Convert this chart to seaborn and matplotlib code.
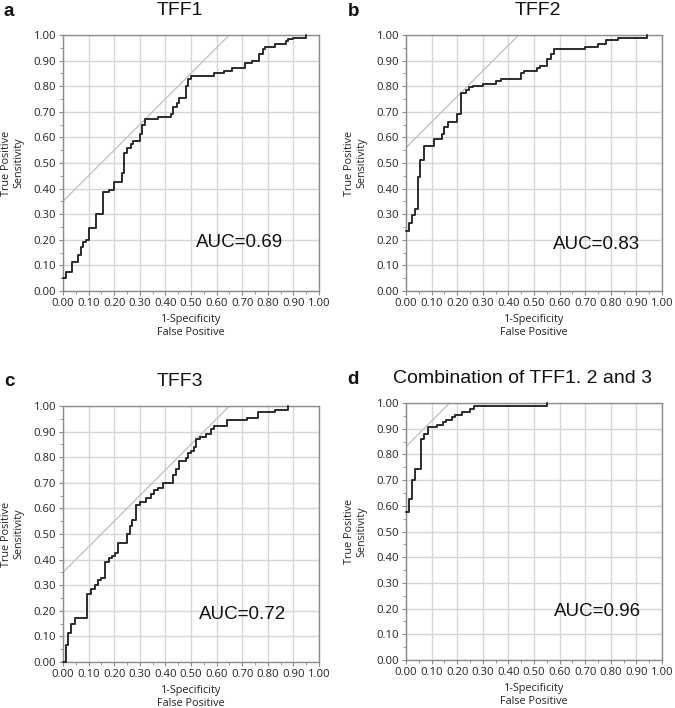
import matplotlib
matplotlib.use("Agg")
import matplotlib.pyplot as plt
import matplotlib.ticker as mticker
import seaborn as sns
import pandas as pd

# ── Data (x = 1-specificity at each step, y = sensitivity after the step) ──
tff1_fpr = [0, 0.01, 0.035, 0.06, 0.07, 0.08, 0.09, 0.10, 0.13, 0.155, 0.18, 0.20, 0.23, 0.24,
            0.25, 0.265, 0.275, 0.30, 0.31, 0.32, 0.37, 0.42, 0.43, 0.445, 0.455, 0.48, 0.49,
            0.50, 0.59, 0.63, 0.66, 0.71, 0.74, 0.765, 0.78, 0.79, 0.83, 0.87, 0.88, 0.90, 0.95]
tff1_tpr = [0.05, 0.075, 0.115, 0.14, 0.17, 0.19, 0.20, 0.245, 0.30, 0.385, 0.395, 0.425, 0.46,
            0.54, 0.56, 0.575, 0.585, 0.615, 0.65, 0.67, 0.68, 0.69, 0.72, 0.735, 0.755, 0.80,
            0.83, 0.84, 0.85, 0.86, 0.87, 0.89, 0.90, 0.925, 0.945, 0.955, 0.965, 0.975, 0.985,
            0.99, 1.0]

tff2_fpr = [0, 0.01, 0.025, 0.035, 0.045, 0.055, 0.07, 0.11, 0.14, 0.15, 0.165, 0.20, 0.215,
            0.235, 0.245, 0.26, 0.30, 0.35, 0.37, 0.45, 0.46, 0.51, 0.525, 0.55, 0.565, 0.58,
            0.70, 0.75, 0.78, 0.83, 0.94]
tff2_tpr = [0.235, 0.265, 0.295, 0.32, 0.445, 0.51, 0.565, 0.595, 0.615, 0.64, 0.66, 0.69,
            0.775, 0.785, 0.795, 0.80, 0.81, 0.82, 0.83, 0.85, 0.86, 0.87, 0.88, 0.905, 0.925,
            0.945, 0.955, 0.965, 0.98, 0.99, 1.0]

tff3_fpr = [0, 0.012, 0.02, 0.03, 0.045, 0.095, 0.11, 0.125, 0.135, 0.15, 0.165, 0.18, 0.19,
            0.205, 0.215, 0.25, 0.26, 0.27, 0.285, 0.30, 0.325, 0.345, 0.355, 0.37, 0.39, 0.43,
            0.44, 0.455, 0.48, 0.49, 0.50, 0.51, 0.52, 0.535, 0.56, 0.58, 0.59, 0.64, 0.72,
            0.76, 0.83, 0.88]
tff3_tpr = [0, 0.065, 0.115, 0.15, 0.17, 0.265, 0.285, 0.30, 0.32, 0.33, 0.39, 0.405, 0.415,
            0.425, 0.465, 0.50, 0.53, 0.555, 0.615, 0.625, 0.64, 0.655, 0.67, 0.68, 0.70, 0.73,
            0.755, 0.785, 0.795, 0.815, 0.825, 0.84, 0.87, 0.88, 0.89, 0.91, 0.92, 0.945, 0.955,
            0.975, 0.985, 1.0]

combo_fpr = [0, 0.01, 0.025, 0.035, 0.06, 0.07, 0.085, 0.12, 0.145, 0.155, 0.18, 0.19, 0.22,
             0.25, 0.265, 0.55]
combo_tpr = [0.575, 0.625, 0.70, 0.745, 0.86, 0.88, 0.905, 0.915, 0.925, 0.935, 0.945, 0.955,
             0.965, 0.975, 0.99, 1.0]

panel_letters = ["a", "b", "c", "d"]
panel_titles = ["TFF1", "TFF2", "TFF3", "Combination of TFF1. 2 and 3"]
auc_values = [0.69, 0.83, 0.72, 0.96]
tangent_intercepts = [0.35, 0.56, 0.35, 0.83]   # slope-1 reference line
tick_values = [i / 10 for i in range(11)]

curves = [(tff1_fpr, tff1_tpr), (tff2_fpr, tff2_tpr), (tff3_fpr, tff3_tpr), (combo_fpr, combo_tpr)]

# ── Style ──────────────────────────────────────────────────────────
sns.set_style("white")
plt.rcParams.update({
    "font.family": ["Open Sans", "DejaVu Sans"],
    "axes.edgecolor": "#8c8c8c",
    "axes.linewidth": 1.0,
})
ARIAL = ["Liberation Sans", "DejaVu Sans"]

fig = plt.figure(figsize=(6.75, 7.08), dpi=100)

# axes rectangles in figure pixels: left, top, width, height
rects = [(63, 35, 256, 256), (406, 35, 256, 256), (63, 406, 256, 256), (406, 403, 256, 257)]
title_x = [0.455, 0.515, 0.457, 0.455]
auc_pos = [(0.52, 0.19), (0.575, 0.18), (0.53, 0.187), (0.578, 0.188)]
letter_pos = [(4, 11), (348, 11), (4, 381), (347, 379)]

W, H = 675, 708
for i, (fpr, tpr) in enumerate(curves):
    left, top, w, h = rects[i]
    ax = fig.add_axes([left / W, (H - top - h) / H, w / W, h / H])

    # gray tangent line
    b = tangent_intercepts[i]
    diag = pd.DataFrame({"x": [0, 1 - b], "y": [b, 1.0]})
    sns.lineplot(data=diag, x="x", y="y", ax=ax, color="#c4c4c4", linewidth=1.0,
                 estimator=None, sort=False)

    df = pd.DataFrame({"fpr": fpr, "tpr": tpr})
    sns.lineplot(data=df, x="fpr", y="tpr", ax=ax, color="#2b2b2b", linewidth=1.4,
                 drawstyle="steps-post", estimator=None, sort=False, clip_on=False, zorder=5)

    ax.set_xlim(0, 1)
    ax.set_ylim(0, 1)
    ax.set_xticks(tick_values)
    ax.set_yticks(tick_values)
    ax.xaxis.set_minor_locator(mticker.MultipleLocator(0.05))
    ax.yaxis.set_minor_locator(mticker.MultipleLocator(0.05))
    ax.xaxis.set_major_formatter(mticker.FormatStrFormatter("%.2f"))
    ax.yaxis.set_major_formatter(mticker.FormatStrFormatter("%.2f"))
    ax.tick_params(which="major", direction="out", length=3, width=0.8, color="#8c8c8c",
                   labelsize=8.1, labelcolor="#222222", pad=2, bottom=True, left=True)
    ax.tick_params(which="minor", direction="out", length=2, width=0.6, color="#8c8c8c",
                   bottom=True, left=True)
    ax.grid(True, which="major", color="#d6d6d6", linewidth=1.0)
    ax.set_axisbelow(True)

    ax.set_ylabel("True Positive\nSensitivity", fontsize=7.8, color="#222222", linespacing=1.2)
    ax.yaxis.set_label_coords(-0.195, 0.5)
    ax.yaxis.label.set_va("center")
    ax.set_xlabel("1-Specificity\nFalse Positive", fontsize=7.8, color="#222222",
                  linespacing=1.25)
    ax.xaxis.set_label_coords(0.5, -0.135)
    ax.xaxis.label.set_va("center")

    ax.text(title_x[i], 1.095, panel_titles[i], transform=ax.transAxes, ha="center",
            va="center", fontsize=14, family=ARIAL, color="#111111")
    ax.text(auc_pos[i][0], auc_pos[i][1], f"AUC={auc_values[i]:.2f}", transform=ax.transAxes,
            ha="left", va="center", fontsize=13.5, family=ARIAL, color="#111111")

    lx, ly = letter_pos[i]
    fig.text(lx / W, 1 - ly / H, panel_letters[i], ha="left", va="center", fontsize=13.5,
             fontweight="bold", family=ARIAL, color="#111111")

fig.savefig("out.png", dpi=100, facecolor="white")
